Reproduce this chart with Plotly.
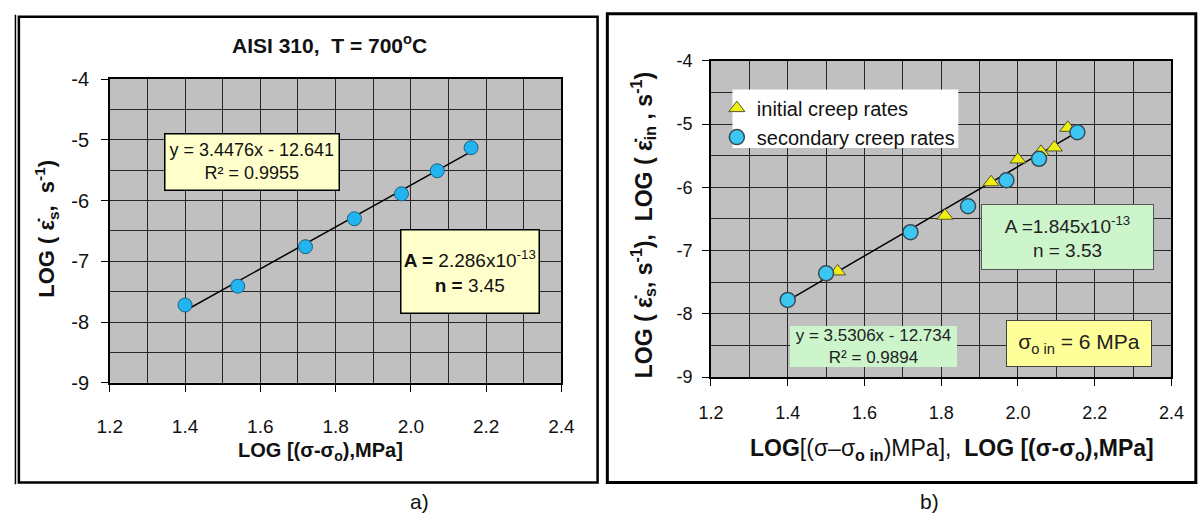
import plotly.graph_objects as go

# ---------------- data ----------------
# panel a) AISI 310, secondary creep rates
a_x = [1.40, 1.54, 1.72, 1.85, 1.975, 2.07, 2.16]
a_y = [-7.72, -7.41, -6.76, -6.30, -5.89, -5.51, -5.13]
a_slope, a_icpt = 3.4476, -12.641
a_fit_x = [1.40, 2.16]

# panel b) secondary and initial creep rates
b_sec_x = [1.40, 1.50, 1.72, 1.87, 1.97, 2.055, 2.155]
b_sec_y = [-7.78, -7.36, -6.71, -6.30, -5.89, -5.55, -5.13]
b_ini_x = [1.53, 1.81, 1.93, 2.00, 2.06, 2.095, 2.13]
b_ini_y = [-7.33, -6.45, -5.92, -5.56, -5.44, -5.37, -5.06]
b_slope, b_icpt = 3.5306, -12.734
b_fit_x = [1.40, 2.16]

x_ticks = [1.2, 1.4, 1.6, 1.8, 2.0, 2.2, 2.4]
x_ticklabels = ["1.2", "1.4", "1.6", "1.8", "2.0", "2.2", "2.4"]
y_ticks = [-9, -8, -7, -6, -5, -4]
y_ticklabels = ["-9", "-8", "-7", "-6", "-5", "-4"]

W, H = 1203, 526
FONT = "Arial, Liberation Sans, sans-serif"


def px(x):
    return x / W


def py(y):
    return 1 - y / H


fig = go.Figure()

# panel a traces
fig.add_trace(go.Scatter(
    x=a_fit_x, y=[a_slope * v + a_icpt for v in a_fit_x], mode="lines",
    line=dict(color="black", width=1.5), xaxis="x", yaxis="y", showlegend=False))
fig.add_trace(go.Scatter(
    x=a_x, y=a_y, mode="markers", xaxis="x", yaxis="y", showlegend=False,
    marker=dict(symbol="circle", size=14, color="#22b4ee",
                line=dict(color="#1d5f86", width=1))))

# panel b traces
fig.add_trace(go.Scatter(
    x=b_fit_x, y=[b_slope * v + b_icpt for v in b_fit_x], mode="lines",
    line=dict(color="black", width=1.5), xaxis="x2", yaxis="y2", showlegend=False))
fig.add_trace(go.Scatter(
    x=b_ini_x, y=b_ini_y, mode="markers", xaxis="x2", yaxis="y2",
    name="initial creep rates",
    marker=dict(symbol="triangle-up", size=14, color="#eeee10",
                line=dict(color="#555533", width=1))))
fig.add_trace(go.Scatter(
    x=b_sec_x, y=b_sec_y, mode="markers", xaxis="x2", yaxis="y2",
    name="secondary creep rates",
    marker=dict(symbol="circle", size=15, color="#3cc6f2",
                line=dict(color="#3a4a55", width=1.5))))

grid = "#262626"


def xax(domain, anchor, fsize, standoff):
    return dict(domain=domain, anchor=anchor, range=[1.2, 2.4],
                tickvals=x_ticks, ticktext=x_ticklabels,
                showgrid=True, gridcolor=grid, gridwidth=1,
                minor=dict(dtick=0.1, tick0=1.2, showgrid=True, gridcolor=grid, gridwidth=1),
                ticks="outside", ticklen=7, tickcolor="black", tickwidth=1,
                showline=True, linecolor="black", linewidth=1.5, mirror=True,
                zeroline=False, ticklabelstandoff=standoff,
                tickfont=dict(family=FONT, size=fsize, color="#111"))


def yax(domain, anchor, fsize, standoff):
    return dict(domain=domain, anchor=anchor, range=[-9, -4],
                tickvals=y_ticks, ticktext=y_ticklabels,
                showgrid=True, gridcolor=grid, gridwidth=1,
                minor=dict(dtick=0.5, tick0=-9, showgrid=True, gridcolor=grid, gridwidth=1),
                ticks="outside", ticklen=7, tickcolor="black", tickwidth=1,
                showline=True, linecolor="black", linewidth=1.5, mirror=True,
                zeroline=False, ticklabelstandoff=standoff,
                tickfont=dict(family=FONT, size=fsize, color="#111"))


fig.update_layout(
    width=W, height=H, margin=dict(l=0, r=0, t=0, b=0),
    paper_bgcolor="white", plot_bgcolor="#c0c0c0",
    xaxis=xax([px(99), px(561)], "y", 19, 19),
    yaxis=yax([py(388), py(71)], "x", 20, 8),
    xaxis2=xax([px(714), px(1185)], "y2", 18, 12),
    yaxis2=yax([py(382), py(52)], "x2", 18, 6),
    showlegend=True,
    legend=dict(x=px(720), y=py(81), xanchor="left", yanchor="top",
                bgcolor="rgba(0,0,0,0)", borderwidth=0,
                font=dict(family=FONT, size=20, color="#111"),
                itemsizing="trace"),
)

shapes = []
# panel frames
shapes.append(dict(type="rect", xref="paper", yref="paper", x0=px(6), x1=px(598),
                   y0=py(492), y1=py(6), line=dict(color="black", width=2.5)))
shapes.append(dict(type="line", xref="paper", yref="paper", x0=px(2.5), x1=px(2.5),
                   y0=py(494), y1=py(4), line=dict(color="black", width=1.5)))
shapes.append(dict(type="rect", xref="paper", yref="paper", x0=px(608), x1=px(1210),
                   y0=py(492), y1=py(3), line=dict(color="black", width=3)))
# legend background (panel b)
shapes.append(dict(type="rect", xref="paper", yref="paper", x0=px(736), x1=px(967),
                   y0=py(143), y1=py(82), fillcolor="white", line=dict(width=0),
                   layer="above"))
fig.update_layout(shapes=shapes)

ann = []


def box(cx, cy, w, h, text, size, bg, border, bw=1, color="#111"):
    ann.append(dict(xref="paper", yref="paper", x=px(cx), y=py(cy),
                    xanchor="center", yanchor="middle", showarrow=False,
                    text=text, align="center", width=w - bw, height=h - bw,
                    bgcolor=bg, bordercolor=border, borderwidth=bw, borderpad=0,
                    font=dict(family=FONT, size=size, color=color)))


def label(cx, cy, text, size, angle=0, color="#111"):
    ann.append(dict(xref="paper", yref="paper", x=px(cx), y=py(cy),
                    xanchor="center", yanchor="middle", showarrow=False,
                    text=text, textangle=angle,
                    font=dict(family=FONT, size=size, color=color)))


# panel a text
label(324, 34, "<b>AISI 310,  T = 700<sup>o</sup>C</b>", 21)
label(315, 460, "<b>LOG [(σ-σ<sub>o</sub>),MPa]</b>", 20)
label(34, 227, "<b>LOG ( ε̇<sub>s</sub>,  s<sup>-1</sup>)</b>", 22, angle=-90)
label(416, 512, "a)", 21)
box(244, 158, 174, 56, "y = 3.4476x - 12.641<br>R² = 0.9955", 18, "#ffffcc", "black", 1.5)
box(467, 272, 138, 83, "<b>A =</b> 2.286x10<sup>-13</sup><br><b>n =</b> 3.45", 19,
    "#ffffcc", "black", 1.5)

# panel b text
label(961, 458, "<b>LOG</b>[(σ–σ<sub><b>o in</b></sub>)MPa],  <b>LOG [(σ-σ<sub>o</sub>),MPa]</b>", 23)
label(644, 224, "<b>LOG ( ε̇<sub>s</sub>, s<sup>-1</sup>),  LOG ( ε̇<sub>in</sub> , s<sup>-1</sup>)</b>",
      23, angle=-90)
label(938, 512, "b)", 21)
box(1079, 236, 172, 65, "A =1.845x10<sup>-13</sup><br>n = 3.53", 19, "#ccf5cc", "#555", 1, "#222")
box(880, 350, 166, 40, "y = 3.5306x - 12.734<br>R² = 0.9894", 17, "#ccf5cc", "#ccf5cc", 1, "#222")
box(1090, 347, 145, 46, "σ<sub>o in</sub> = 6 MPa", 21, "#ffff99", "#444", 1, "#222")

fig.update_layout(annotations=ann)
fig.write_html("out.html")
